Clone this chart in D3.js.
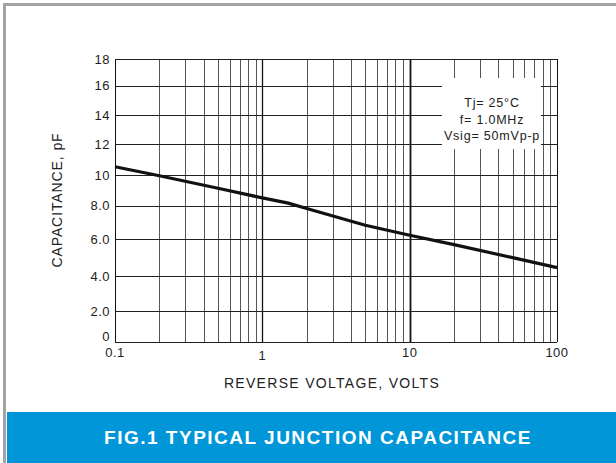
<!DOCTYPE html>
<html><head><meta charset="utf-8">
<script src="https://cdn.jsdelivr.net/npm/d3@7"></script>
<style>
html,body{margin:0;padding:0;background:#fff;}
svg{display:block;font-family:"Liberation Sans",Arial,sans-serif;}
</style></head>
<body>
<svg id="c" width="616" height="463"></svg>
<script>
// ---- data ----
const voltage = [0.1, 0.2, 0.5, 1, 1.5, 2, 5, 10, 20, 50, 100];
const capacitance = [10.54, 9.95, 9.14, 8.52, 8.18, 7.84, 6.84, 6.24, 5.71, 5.01, 4.47];
const yTicks = [0, 2, 4, 6, 8, 10, 12, 14, 16, 18];
const yTickLabels = ["0", "2.0", "4.0", "6.0", "8.0", "10", "12", "14", "16", "18"];
const xTicks = [0.1, 1, 10, 100];
const xTickLabels = ["0.1", "1", "10", "100"];
const legendLines = ["Tj= 25°C", "f= 1.0MHz", "Vsig= 50mVp-p"];
const title = "FIG.1 TYPICAL JUNCTION CAPACITANCE";

const svg = d3.select("#c");
const L = 115, R = 557, T = 59, B = 342;
const H = B - T;

// frame
svg.append("rect").attr("x", 4.5).attr("y", 4.5).attr("width", 640).attr("height", 480)
  .attr("fill", "none").attr("stroke", "#a3a3a3").attr("stroke-width", 3);
// banner
svg.append("rect").attr("x", 7).attr("y", 412).attr("width", 609).attr("height", 51).attr("fill", "#0096d8");
svg.append("text").attr("x", 318).attr("y", 444).attr("text-anchor", "middle")
  .attr("fill", "#fff").attr("font-weight", "bold").attr("font-size", 19).attr("letter-spacing", 1.5)
  .text(title);

// scales
const x = d3.scaleLog().domain([0.1, 100]).range([L, R]);
// the original paper grid is slightly non-uniform; piecewise scale through the tick rows
const yFrac = [0, 0.1086, 0.232, 0.363, 0.481, 0.590, 0.698, 0.802, 0.906, 1];
const y = d3.scaleLinear().domain(yTicks).range(yFrac.map(f => B - f * H));

// grid
const g = svg.append("g");
const minor = [];
[0.1, 1, 10].forEach(d => { for (let k = 2; k <= 9; k++) minor.push(d * k); });
g.selectAll(".vm").data(minor).join("line")
  .attr("x1", d => Math.round(x(d)) + 0.5).attr("x2", d => Math.round(x(d)) + 0.5)
  .attr("y1", T).attr("y2", B).attr("stroke", "#555").attr("stroke-width", 1);
g.selectAll(".vM").data([1, 10]).join("line")
  .attr("x1", d => Math.round(x(d)) + 0.5).attr("x2", d => Math.round(x(d)) + 0.5)
  .attr("y1", T).attr("y2", B).attr("stroke", "#111").attr("stroke-width", d => d === 10 ? 1.8 : 1.3);
g.selectAll(".h").data(yTicks).join("line")
  .attr("x1", L).attr("x2", R)
  .attr("y1", d => Math.round(y(d)) + 0.5).attr("y2", d => Math.round(y(d)) + 0.5)
  .attr("stroke", "#222").attr("stroke-width", 1);
g.append("line").attr("x1", L + 0.5).attr("x2", L + 0.5).attr("y1", T).attr("y2", B).attr("stroke", "#111");
g.append("line").attr("x1", R + 0.5).attr("x2", R + 0.5).attr("y1", T).attr("y2", B).attr("stroke", "#111");

// legend box (blanks the grid)
svg.append("rect").attr("x", 442).attr("y", 78).attr("width", 99).attr("height", 71).attr("fill", "#fff");
const lg = svg.append("text").attr("text-anchor", "middle").attr("font-size", 12.5)
  .attr("fill", "#222").attr("letter-spacing", 0.8);
legendLines.forEach((s, i) => {
  lg.append("tspan").attr("x", 492).attr("y", 107 + i * 16.5).text(s);
});

// curve
const line = d3.line().x(d => x(d[0])).y(d => y(d[1]));
svg.append("path").datum(voltage.map((v, i) => [v, capacitance[i]]))
  .attr("d", line).attr("fill", "none").attr("stroke", "#111").attr("stroke-width", 3.2)
  .attr("stroke-linejoin", "round");

// tick labels
svg.selectAll(".yl").data(yTicks).join("text")
  .attr("x", 110).attr("y", d => d === 0 ? y(d) - 1 : y(d) + 4.5).attr("text-anchor", "end")
  .attr("font-size", 13).attr("fill", "#222").attr("letter-spacing", 0.5).text((d, i) => yTickLabels[i]);
svg.selectAll(".xl").data(xTicks).join("text")
  .attr("x", d => x(d)).attr("y", (d, i) => i === 1 ? 360 : 357).attr("text-anchor", "middle")
  .attr("font-size", 13).attr("fill", "#222").attr("letter-spacing", 0.5).text((d, i) => xTickLabels[i]);

// axis titles
svg.append("text").attr("x", 332).attr("y", 388).attr("text-anchor", "middle")
  .attr("font-size", 14).attr("fill", "#222").attr("letter-spacing", 1.3).text("REVERSE VOLTAGE, VOLTS");
svg.append("text").attr("transform", "translate(62,200) rotate(-90)").attr("text-anchor", "middle")
  .attr("font-size", 14).attr("fill", "#222").attr("letter-spacing", 0.9).text("CAPACITANCE, pF");
</script>
</body></html>
